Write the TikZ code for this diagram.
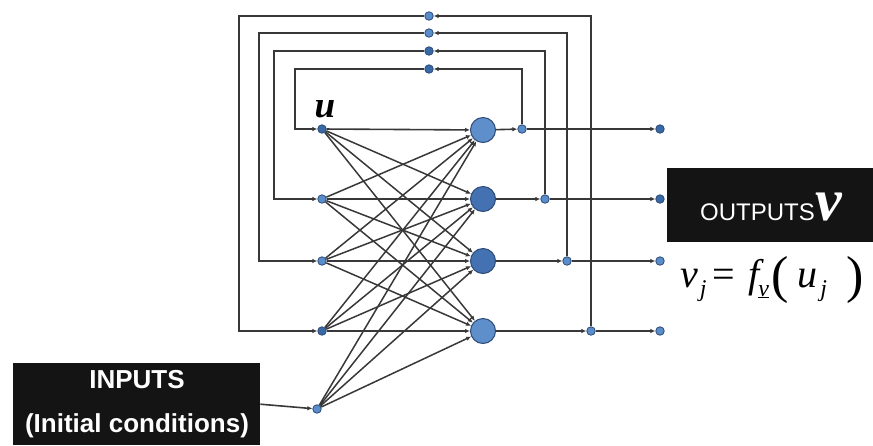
\documentclass[tikz,border=0pt]{standalone}
\usepackage{fontspec}
\setmainfont{Liberation Serif}
\newfontfamily\arialf{Liberation Sans}
\usetikzlibrary{arrows.meta}
\definecolor{dotblue}{HTML}{5A8DCB}
\definecolor{dotdark}{HTML}{3A69A8}
\definecolor{dotedge}{HTML}{2C4A75}
\definecolor{neuronblue}{HTML}{5F8FCB}
\definecolor{neurondark}{HTML}{4471B2}
\definecolor{wirec}{HTML}{383838}
\newcommand{\subtxt}[1]{\raisebox{-9pt}{\fontsize{24}{24}\selectfont\itshape #1}}
\newcommand{\bigpar}[1]{\raisebox{-5pt}{\fontsize{52}{52}\selectfont\upshape #1}}
\begin{document}
\begin{tikzpicture}[x=1pt,y=-1pt,
  dot/.style={circle,fill=dotblue,draw=dotedge,line width=0.8pt,inner sep=0pt,minimum size=8.5pt},
  darkdot/.style={dot,fill=dotdark},
  neuron/.style={circle,fill=neuronblue,draw=dotedge,line width=1pt,inner sep=0pt,minimum size=25pt},
  darkneuron/.style={neuron,fill=neurondark},
  wire/.style={draw=wirec,line width=1.6pt,-{Latex[length=5pt,width=4.5pt]}},
  link/.style={draw=wirec,line width=1.5pt,-{Latex[length=5pt,width=4.5pt]}},
  box/.style={fill=black!92,inner sep=0pt,anchor=north west},
  boxtext/.style={text=white,inner sep=0pt},
]
\useasboundingbox (0,0) rectangle (873,445);

% input layer
\node[darkdot] (i1) at (322,129) {};
\node[dot]     (i2) at (322,199) {};
\node[dot]     (i3) at (322,261) {};
\node[darkdot] (i4) at (322,331) {};
\node[dot]     (i0) at (317,409) {};

% neurons
\node[neuron]     (n1) at (483,130) {};
\node[darkneuron] (n2) at (483,199) {};
\node[darkneuron] (n3) at (483,261) {};
\node[neuron]     (n4) at (483,331) {};

% output branch dots
\node[dot] (o1) at (522,129) {};
\node[dot] (o2) at (545,199) {};
\node[dot] (o3) at (567,261) {};
\node[dot] (o4) at (591,331) {};

% end dots
\node[darkdot] (e1) at (660,129) {};
\node[darkdot] (e2) at (660,199) {};
\node[dot]     (e3) at (660,261) {};
\node[dot]     (e4) at (660,331) {};

% top (delay) dots
\node[dot]     (t1) at (429,16) {};
\node[dot]     (t2) at (429,33) {};
\node[darkdot] (t3) at (429,51) {};
\node[darkdot] (t4) at (429,69) {};

% corner coordinates
\coordinate (k1a) at (239,16);  \coordinate (k1b) at (239,331);
\coordinate (k2a) at (259,33);  \coordinate (k2b) at (259,261);
\coordinate (k3a) at (274,51);  \coordinate (k3b) at (274,199);
\coordinate (k4a) at (295,69);  \coordinate (k4b) at (295,129);

% row lines
\foreach \r in {1,2,3,4}{
  \draw[wire] (i\r) -- (n\r);
  \draw[wire] (n\r) -- (o\r);
  \draw[wire] (o\r) -- (e\r);
}

% cross links
\foreach \a in {1,2,3,4}{
  \foreach \b in {1,2,3,4}{
    \ifnum\a=\b\relax\else
      \draw[link] (i\a) -- (n\b);
    \fi
  }
}
\foreach \b in {1,2,3,4}{
  \draw[link] (i0) -- (n\b);
}

% feedback loops
\draw[wire] (o1) -- (o1 |- t4) -- (t4);
\draw[wire] (o2) -- (o2 |- t3) -- (t3);
\draw[wire] (o3) -- (o3 |- t2) -- (t2);
\draw[wire] (o4) -- (o4 |- t1) -- (t1);
\draw[wire] (t4) -- (k4a) -- (k4b) -- (i1);
\draw[wire] (t3) -- (k3a) -- (k3b) -- (i2);
\draw[wire] (t2) -- (k2a) -- (k2b) -- (i3);
\draw[wire] (t1) -- (k1a) -- (k1b) -- (i4);

% label u
\node[font=\bfseries\itshape\fontsize{37}{37}\selectfont,anchor=base,inner sep=0pt] (ulbl) at (325,117) {u};

% inputs box
\node[box,minimum width=247pt,minimum height=82pt] (inbox) at (13,363) {};
\node[boxtext,anchor=base,font=\arialf\bfseries\fontsize{26}{26}\selectfont] (intxt1) at (137,388) {INPUTS};
\node[boxtext,anchor=base,font=\arialf\bfseries\fontsize{26}{26}\selectfont] (intxt2) at (137,432) {(Initial conditions)};
\draw[wire] (inbox.east) -- (i0);

% outputs box
\node[box,minimum width=206pt,minimum height=74pt] (outbox) at (667,168) {};
\node[boxtext,anchor=base west,font=\arialf\fontsize{24}{24}\selectfont] (outtxt) at (700,220) {OUTPUTS};
\node[boxtext,anchor=base west,font=\bfseries\itshape\fontsize{60}{60}\selectfont] (outv) at (815,220) {v};

% formula
\node[anchor=base west,inner sep=0pt,font=\fontsize{40}{40}\selectfont] (formula) at (680,287)
  {\itshape v\hspace{2pt}\subtxt{j}\hspace{6pt}\upshape=\hspace{13pt}\itshape f\hspace{-1pt}\subtxt{\underline{v}}\hspace{3pt}\bigpar{(}\hspace{8pt}\itshape u\hspace{3pt}\subtxt{j}\hspace{20pt}\bigpar{)}};
\end{tikzpicture}
\end{document}
